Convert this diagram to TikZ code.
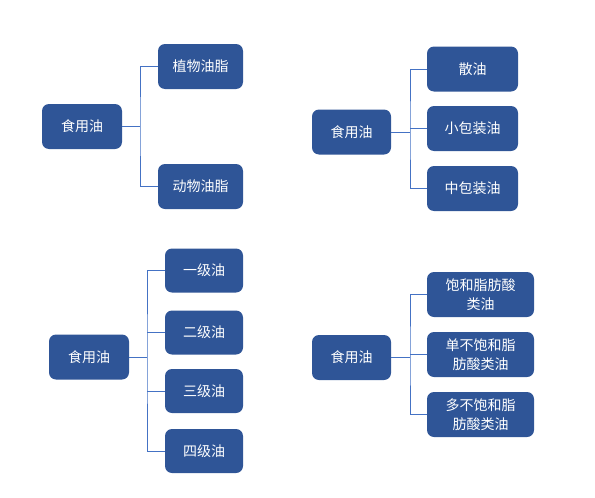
\documentclass[tikz,border=0pt]{standalone}
\usepackage{fontspec}
\setmainfont{Noto Sans CJK SC}
\definecolor{boxblue}{HTML}{2F5597}
\definecolor{lineblue}{HTML}{4472C4}
\begin{document}
\begin{tikzpicture}[x=1pt,y=-1pt,
  box/.style={fill=boxblue,draw=none,rounded corners=7pt,text=white,
    font=\fontsize{14pt}{18.5pt}\selectfont,align=center,inner sep=0pt},
  rootbox/.style={box,minimum width=80pt,minimum height=45pt},
  leafA/.style={box,minimum width=85pt,minimum height=45pt},
  leafB/.style={box,minimum width=91pt,minimum height=45pt},
  leafC/.style={box,minimum width=78pt,minimum height=44pt},
  leafD/.style={box,minimum width=107pt,minimum height=45pt},
  conn/.style={draw=lineblue,line width=0.9pt}]
\useasboundingbox (0,0) rectangle (595,498);
% diagram 1
\node[rootbox] (r1) at (82,126.5) {食用油};
\node[leafA] (a1) at (200.5,66.5) {植物油脂};
\node[leafA] (a2) at (200.5,186.5) {动物油脂};
\coordinate (h1) at (140,126.5);
\draw[conn] (r1.east) -- (h1);
\draw[conn] (a1.west) -| (h1) |- (a2.west);
% diagram 2
\node[rootbox,minimum width=79pt] (r2) at (351.5,132) {食用油};
\node[leafB] (b1) at (472.5,69) {散油};
\node[leafB] (b2) at (472.5,128.5) {小包装油};
\node[leafB] (b3) at (472.5,188.5) {中包装油};
\coordinate (h2) at (410,132);
\draw[conn] (r2.east) -- (h2);
\draw[conn] (b1.west) -| (h2) |- (b3.west);
\draw[conn] (b2.west) -- (b2.west -| h2);
% diagram 3
\node[rootbox] (r3) at (89,357) {食用油};
\node[leafC] (c1) at (204,270.5) {一级油};
\node[leafC] (c2) at (204,332.5) {二级油};
\node[leafC] (c3) at (204,391) {三级油};
\node[leafC] (c4) at (204,451) {四级油};
\coordinate (h3) at (147,357);
\draw[conn] (r3.east) -- (h3);
\draw[conn] (c1.west) -| (h3) |- (c4.west);
\draw[conn] (c2.west) -- (c2.west -| h3);
\draw[conn] (c3.west) -- (c3.west -| h3);
% diagram 4
\node[rootbox,minimum width=79pt] (r4) at (351.5,357.5) {食用油};
\node[leafD] (d1) at (480.5,294.5) {饱和脂肪酸\\类油};
\node[leafD] (d2) at (480.5,354.5) {单不饱和脂\\肪酸类油};
\node[leafD] (d3) at (480.5,414.5) {多不饱和脂\\肪酸类油};
\coordinate (h4) at (410,357.5);
\draw[conn] (r4.east) -- (h4);
\draw[conn] (d1.west) -| (h4) |- (d3.west);
\draw[conn] (d2.west) -- (d2.west -| h4);
\end{tikzpicture}
\end{document}
